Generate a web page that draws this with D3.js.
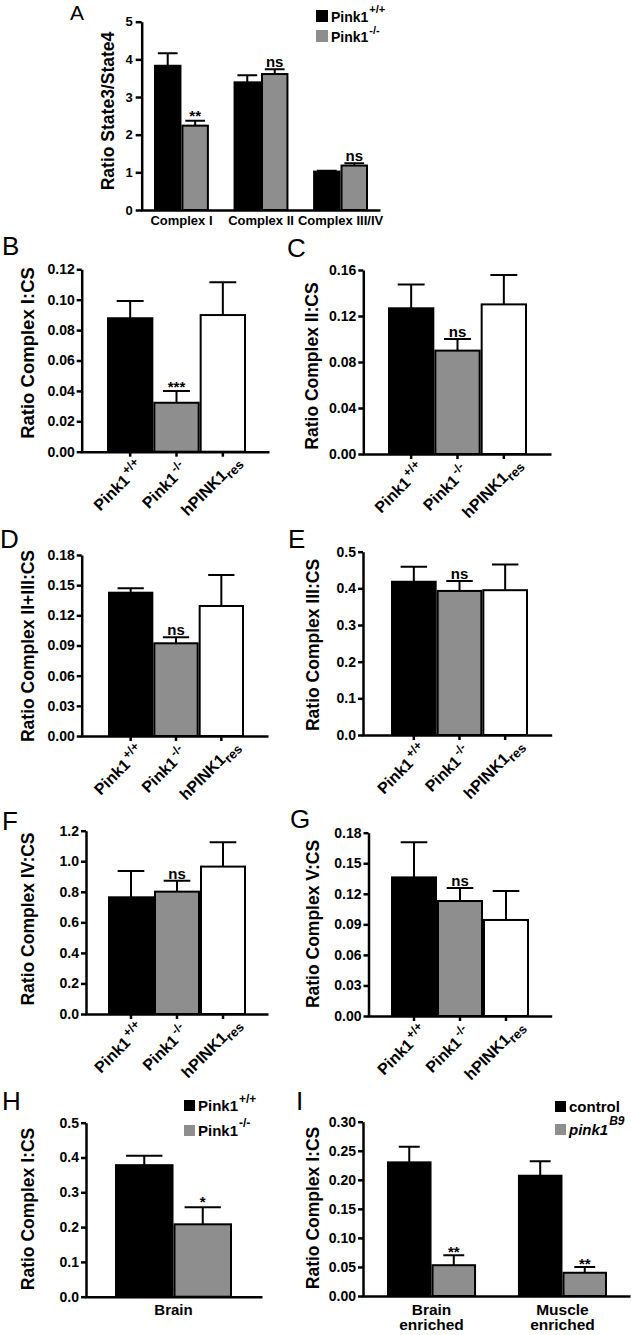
<!DOCTYPE html>
<html><head><meta charset="utf-8">
<script src="https://cdn.jsdelivr.net/npm/d3@7"></script>
<style>body{margin:0;background:#fff}svg{display:block}</style>
</head><body>
<script>
// ---------------- data ----------------
const groupsA = ["Complex I", "Complex II", "Complex III/IV"];
const wtA = [3.83, 3.39, 1.02];
const wtA_sem = [0.33, 0.19, 0.02];
const koA = [2.24, 3.61, 1.18];
const koA_sem = [0.13, 0.13, 0.06];
const koA_sig = ["**", "ns", "ns"];
const ticksA = [0, 1, 2, 3, 4, 5];

const genotypes = ["Pink1+/+", "Pink1-/-", "hPINK1res"];

const ratioB = [0.0878, 0.0322, 0.0899];
const semB = [0.0114, 0.0077, 0.0215];
const sigB = ["", "***", ""];
const ticksB = [0, 0.02, 0.04, 0.06, 0.08, 0.10, 0.12];

const ratioC = [0.1267, 0.0899, 0.1301];
const semC = [0.0208, 0.0101, 0.0256];
const sigC = ["", "ns", ""];
const ticksC = [0, 0.04, 0.08, 0.12, 0.16];

const ratioD = [0.1425, 0.0922, 0.1293];
const semD = [0.0044, 0.0059, 0.0308];
const sigD = ["", "ns", ""];
const ticksD = [0, 0.03, 0.06, 0.09, 0.12, 0.15, 0.18];

const ratioE = [0.418, 0.393, 0.395];
const semE = [0.041, 0.027, 0.070];
const sigE = ["", "ns", ""];
const ticksE = [0, 0.1, 0.2, 0.3, 0.4, 0.5];

const ratioF = [0.764, 0.801, 0.965];
const semF = [0.172, 0.072, 0.159];
const sigF = ["", "ns", ""];
const ticksF = [0, 0.2, 0.4, 0.6, 0.8, 1.0, 1.2];

const ratioG = [0.1361, 0.1129, 0.0943];
const semG = [0.0344, 0.0128, 0.0284];
const sigG = ["", "ns", ""];
const ticksG = [0, 0.03, 0.06, 0.09, 0.12, 0.15, 0.18];

const groupsH = ["Brain"];
const wtH = [0.378];
const wtH_sem = [0.027];
const koH = [0.208];
const koH_sem = [0.049];
const koH_sig = ["*"];
const ticksH = [0, 0.1, 0.2, 0.3, 0.4, 0.5];

const groupsI = ["Brain enriched", "Muscle enriched"];
const ctlI = [0.230, 0.207];
const ctlI_sem = [0.027, 0.025];
const b9I = [0.053, 0.040];
const b9I_sem = [0.017, 0.010];
const b9I_sig = ["**", "**"];
const ticksI = [0, 0.05, 0.10, 0.15, 0.20, 0.25, 0.30];

// ---------------- style ----------------
const BLACK = "#000", GRAY = "#8e8e8e", WHITE = "#fff";
const geneFills = [BLACK, GRAY, WHITE];
const FONT = "'Liberation Sans', Arial, Helvetica, sans-serif";

const svg = d3.select("body").append("svg")
  .attr("width", 631).attr("height", 1335)
  .style("font-family", FONT);

function addLabelParts(text, label, supSize) {
  let m;
  if ((m = label.match(/^(Pink1)(.+)$/))) {
    text.append("tspan").text(m[1]);
    text.append("tspan").attr("dx", 2).attr("dy", -7).attr("font-size", supSize).text(m[2]);
  } else if ((m = label.match(/^(hPINK1)(res)$/))) {
    text.append("tspan").text(m[1]);
    text.append("tspan").attr("dy", 4).attr("font-size", supSize + 1).text(m[2]);
  } else {
    text.text(label);
  }
}

function drawPanel(p) {
  const g = svg.append("g");
  const y = d3.scaleLinear().domain([0, p.ymax]).range([p.yb, p.yt]);
  const x = d3.scaleBand().domain(p.cats).range(p.barRange).paddingInner(p.padInner || 0).paddingOuter(0);
  const xs = d3.scaleBand().domain(d3.range(p.series.length)).range([0, x.bandwidth()]);
  const bw = xs.bandwidth();

  p.series.forEach((s, si) => {
    const rows = p.cats.map((c, i) => ({
      c, v: s.values[i], e: s.sems[i], sig: s.sig ? s.sig[i] : "",
      fill: Array.isArray(s.fill) ? s.fill[i] : s.fill
    }));
    const sg = g.append("g");
    sg.selectAll("rect").data(rows).join("rect")
      .attr("x", d => x(d.c) + xs(si) + 1)
      .attr("y", d => y(d.v))
      .attr("width", bw - 2)
      .attr("height", d => y(0) - y(d.v))
      .attr("fill", d => d.fill)
      .attr("stroke", BLACK).attr("stroke-width", 2);
    sg.selectAll("path.err").data(rows).join("path").attr("class", "err")
      .attr("d", d => {
        const cx = x(d.c) + xs(si) + bw / 2, yt = y(d.v + d.e), cw = bw * p.capRatio;
        return `M${cx},${y(d.v)}V${yt}M${cx - cw / 2},${yt}H${cx + cw / 2}`;
      })
      .attr("fill", "none").attr("stroke", BLACK).attr("stroke-width", 2);
    sg.selectAll("text.sig").data(rows.filter(d => d.sig)).join("text").attr("class", "sig")
      .attr("x", d => x(d.c) + xs(si) + bw / 2)
      .attr("y", d => y(d.v + d.e) + (d.sig === "ns" ? -2 : p.astOff))
      .attr("text-anchor", "middle").attr("font-weight", "bold").attr("font-size", 15)
      .text(d => d.sig);
  });

  // y axis
  const ya = g.append("g").attr("transform", `translate(${p.x0},0)`)
    .call(d3.axisLeft(y).tickValues(p.ticks).tickFormat(d3.format(p.fmt))
      .tickSize(p.tickLen).tickSizeOuter(0).tickPadding(p.tickPad));
  ya.select(".domain").attr("stroke", BLACK).attr("stroke-width", 2.5);
  ya.selectAll(".tick line").attr("stroke", BLACK).attr("stroke-width", 2.5);
  ya.selectAll(".tick text").attr("font-size", p.tickFont).attr("font-weight", "bold")
    .attr("fill", BLACK).attr("font-family", FONT);

  // x axis line
  const xl = d3.scaleLinear().range([p.x0 - 1.25, p.x1]);
  const xa = g.append("g").attr("transform", `translate(0,${p.yb})`)
    .call(d3.axisBottom(xl).tickValues([]).tickSizeOuter(0));
  xa.select(".domain").attr("stroke", BLACK).attr("stroke-width", 2.5);

  // x ticks at categories
  if (p.xTicks) {
    const xt = g.append("g").attr("transform", `translate(0,${p.yb})`)
      .call(d3.axisBottom(x).tickSize(p.xTicks).tickFormat(""));
    xt.select(".domain").remove();
    xt.selectAll(".tick line").attr("stroke", BLACK).attr("stroke-width", 2.5);
  }

  // category labels
  if (p.rotLabels) {
    p.cats.forEach(c => {
      const cx = x(c) + x.bandwidth() / 2 - 8, cy = p.yb + 38;
      const t = g.append("text")
        .attr("transform", `translate(${cx},${cy}) rotate(-45)`)
        .attr("text-anchor", "middle").attr("font-weight", "bold").attr("font-size", 16);
      addLabelParts(t, c, 12);
    });
  } else {
    p.cats.forEach(c => {
      const lines = p.wrap ? c.split(" ") : [c];
      const t = g.append("text").attr("text-anchor", "middle").attr("font-weight", "bold")
        .attr("font-size", p.xFont);
      lines.forEach((ln, li) => {
        t.append("tspan").attr("x", x(c) + x.bandwidth() / 2)
          .attr("y", p.yb + p.xLabelDy + li * p.lineH).text(ln);
      });
    });
  }

  // y title
  g.append("text")
    .attr("transform", `translate(${p.title[1]},${p.title[2]}) rotate(-90)`)
    .attr("dy", "0.3em").attr("text-anchor", "middle")
    .attr("font-weight", "bold").attr("font-size", p.titleFont || 17.5)
    .text(p.title[0]);

  // panel letter
  svg.append("text").attr("x", p.letter[1]).attr("y", p.letter[2])
    .attr("font-size", p.letter[3] || 26).attr("font-weight", "normal")
    .text(p.letter[0]);
  return {x, y, g};
}

// ---- Panel A ----
drawPanel({
  cats: groupsA, series: [
    {values: wtA, sems: wtA_sem, fill: BLACK},
    {values: koA, sems: koA_sem, fill: GRAY, sig: koA_sig}],
  x0: 141.7, x1: 380, yb: 210, yt: 21.7, ymax: 5, ticks: ticksA, fmt: "d",
  barRange: [154, 368], padInner: 0.31, capRatio: 0.72, astOff: 0,
  tickLen: 6, tickPad: 3, tickFont: 13,
  xFont: 13, xLabelDy: 15, lineH: 0,
  title: ["Ratio State3/State4", 109, 111], titleFont: 17.5,
  letter: ["A", 70, 20, 21]
});

function geneSeries(vals, sems, sig) {
  return [{values: vals, sems: sems, fill: geneFills, sig: sig}];
}
const geneCommon = {cats: genotypes, capRatio: 0.58, tickLen: 5, tickPad: 2, tickFont: 14,
  xTicks: 5, rotLabels: true, astOff: 1};

drawPanel(Object.assign({}, geneCommon, {series: geneSeries(ratioB, semB, sigB),
  x0: 81.7, x1: 269, yb: 451.7, yt: 269.3, ymax: 0.12, ticks: ticksB, fmt: ".2f",
  barRange: [107, 246], title: ["Ratio Complex I:CS", 28, 353], titleFont: 18.5, letter: ["B", 2, 255]}));
drawPanel(Object.assign({}, geneCommon, {series: geneSeries(ratioC, semC, sigC),
  x0: 363.3, x1: 551, yb: 454, yt: 270, ymax: 0.16, ticks: ticksC, fmt: ".2f",
  barRange: [388, 527], title: ["Ratio Complex II:CS", 313, 366], letter: ["C", 287, 257]}));
drawPanel(Object.assign({}, geneCommon, {series: geneSeries(ratioD, semD, sigD),
  x0: 81.7, x1: 268, yb: 736, yt: 555, ymax: 0.18, ticks: ticksD, fmt: ".2f",
  barRange: [108, 244], title: ["Ratio Complex II+III:CS", 29, 646], letter: ["D", 0, 548]}));
drawPanel(Object.assign({}, geneCommon, {series: geneSeries(ratioE, semE, sigE),
  x0: 363, x1: 551.7, yb: 735, yt: 551.7, ymax: 0.5, ticks: ticksE, fmt: ".1f",
  barRange: [391, 528], title: ["Ratio Complex III:CS", 314, 645], letter: ["E", 288, 548]}));
drawPanel(Object.assign({}, geneCommon, {series: geneSeries(ratioF, semF, sigF),
  x0: 86, x1: 268, yb: 1014, yt: 830.7, ymax: 1.2, ticks: ticksF, fmt: ".1f",
  barRange: [108, 246], title: ["Ratio Complex IV:CS", 29, 919], letter: ["F", 2, 830]}));
drawPanel(Object.assign({}, geneCommon, {series: geneSeries(ratioG, semG, sigG),
  x0: 368.5, x1: 551.7, yb: 1016, yt: 832.7, ymax: 0.18, ticks: ticksG, fmt: ".2f",
  barRange: [391, 529], title: ["Ratio Complex V:CS", 314, 924], letter: ["G", 290, 828]}));

// ---- Panel H ----
drawPanel({
  cats: groupsH, series: [
    {values: wtH, sems: wtH_sem, fill: BLACK},
    {values: koH, sems: koH_sem, fill: GRAY, sig: koH_sig}],
  x0: 86, x1: 262, yb: 1296.7, yt: 1122.7, ymax: 0.5, ticks: ticksH, fmt: ".1f",
  barRange: [115, 232], capRatio: 0.62, astOff: 0,
  tickLen: 5, tickPad: 2, tickFont: 14,
  xFont: 15, xLabelDy: 18, lineH: 0,
  title: ["Ratio Complex I:CS", 29, 1209], letter: ["H", 2, 1110]
});

// ---- Panel I ----
drawPanel({
  cats: groupsI, series: [
    {values: ctlI, sems: ctlI_sem, fill: BLACK},
    {values: b9I, sems: b9I_sem, fill: GRAY, sig: b9I_sig}],
  x0: 363, x1: 630, yb: 1296, yt: 1121.7, ymax: 0.3, ticks: ticksI, fmt: ".2f",
  barRange: [387, 607], padInner: 0.32, capRatio: 0.47, astOff: 2,
  tickLen: 5, tickPad: 2, tickFont: 14,
  xFont: 15.5, xLabelDy: 19, lineH: 14.5, wrap: true,
  title: ["Ratio Complex I:CS", 314, 1208], letter: ["I", 296, 1110]
});

// ---------------- legends ----------------
function legendItem(x, y, fill, main, sup, opts) {
  const o = opts || {};
  svg.append("rect").attr("x", x).attr("y", y - o.box).attr("width", o.box).attr("height", o.box)
    .attr("fill", fill);
  const t = svg.append("text").attr("x", x + o.box + 3).attr("y", y)
    .attr("font-weight", "bold").attr("font-size", o.size)
    .attr("font-style", o.italic ? "italic" : "normal");
  t.append("tspan").text(main);
  if (sup) t.append("tspan").attr("dx", o.supDx || 1).attr("dy", -o.supRise)
    .attr("font-size", o.supSize).text(sup);
}
// A
legendItem(316, 22, BLACK, "Pink1", "+/+", {box: 12, size: 14, supSize: 11, supRise: 9, supDx: 1});
legendItem(316, 42, GRAY, "Pink1", "-/-", {box: 12, size: 14, supSize: 11, supRise: 8, supDx: 1});
// H
legendItem(184, 1111, BLACK, "Pink1", "+/+", {box: 11, size: 15, supSize: 12, supRise: 8, supDx: 1});
legendItem(184, 1136, GRAY, "Pink1", "-/-", {box: 11, size: 15, supSize: 12, supRise: 9, supDx: 1});
// I
legendItem(555, 1112, BLACK, "control", null, {box: 11, size: 15});
legendItem(555, 1135, GRAY, "pink1", "B9", {box: 11, size: 15, supSize: 12, supRise: 10, supDx: 1, italic: true});
</script>
</body></html>
